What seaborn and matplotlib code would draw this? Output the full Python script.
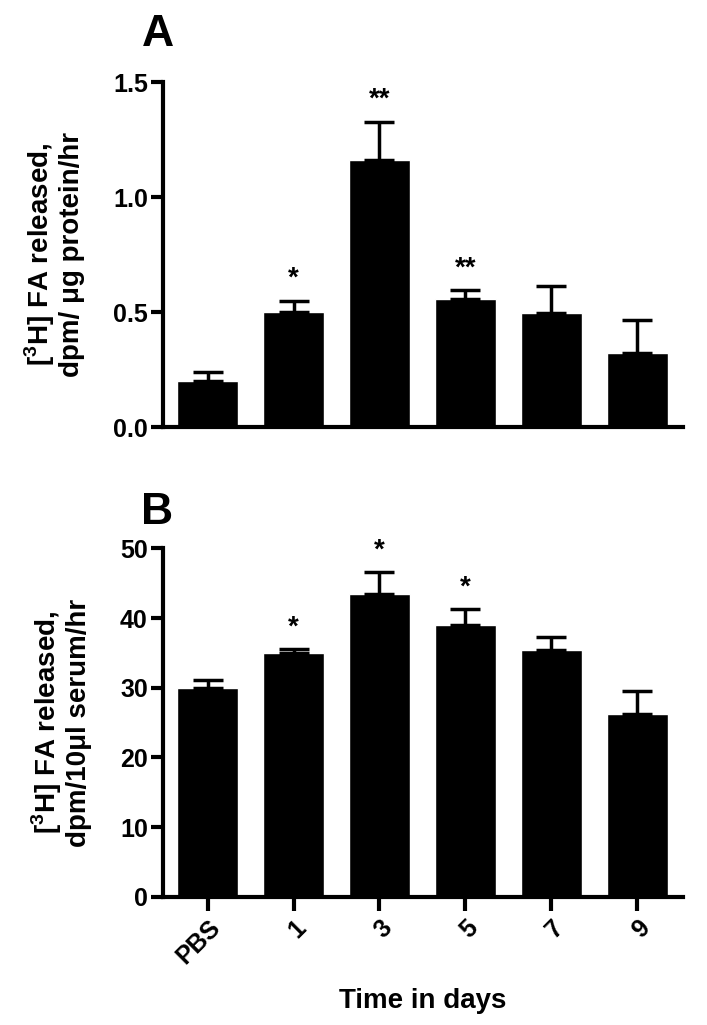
import pandas as pd
import matplotlib.pyplot as plt
import seaborn as sns

# Values
groups = ["PBS", "1", "3", "5", "7", "9"]
fa_protein = [0.20, 0.50, 1.16, 0.557, 0.497, 0.323]
fa_protein_sem = [0.042, 0.05, 0.166, 0.038, 0.116, 0.145]
fa_protein_stars = ["", "*", "**", "**", "", ""]

fa_serum = [29.9, 35.0, 43.4, 39.0, 35.4, 26.3]
fa_serum_sem = [1.2, 0.5, 3.2, 2.3, 1.9, 3.2]
fa_serum_stars = ["", "*", "*", "*", "", ""]

sns.set_style("ticks")
plt.rcParams["font.family"] = ["Liberation Sans", "DejaVu Sans"]
plt.rcParams["font.weight"] = "bold"
plt.rcParams["mathtext.fontset"] = "custom"
plt.rcParams["mathtext.bf"] = "Liberation Sans:bold"
plt.rcParams["mathtext.rm"] = "Liberation Sans:bold"
for key in ["text.color", "axes.labelcolor", "xtick.color", "ytick.color", "axes.edgecolor"]:
    plt.rcParams[key] = "black"


def draw_panel(ax, values, sems, stars, ylim, yticks, ylabel, star_pad):
    df = pd.DataFrame({"group": groups, "value": values})
    sns.barplot(data=df, x="group", y="value", color="black", saturation=1,
                width=0.71, errorbar=None, ax=ax)
    xs = range(len(groups))
    ax.errorbar(xs, values, yerr=[[0] * len(values), sems], fmt="none",
                ecolor="black", elinewidth=2.5, capsize=11, capthick=2.5)
    for x, v, s, st in zip(xs, values, sems, stars):
        if st:
            ax.text(x, v + s + star_pad, st, ha="center", va="bottom",
                    fontsize=20, fontweight="bold")
    ax.set_ylim(*ylim)
    ax.set_xlim(-0.52, 5.53)
    ax.set_yticks(yticks)
    ax.set_ylabel(ylabel, fontsize=20, fontweight="bold", labelpad=20,
                  linespacing=1.1)
    ax.set_xlabel("")
    sns.despine(ax=ax)
    for sp in ["left", "bottom"]:
        ax.spines[sp].set_linewidth(3)
    ax.tick_params(axis="y", width=3, length=9, pad=2, labelsize=18)
    ax.tick_params(axis="x", width=3, length=10, labelsize=18)


fig = plt.figure(figsize=(7.07, 10.25), dpi=100)
ax_a = fig.add_axes([0.2306, 0.583, 0.735, 0.337])
ax_b = fig.add_axes([0.2306, 0.125, 0.735, 0.34])

draw_panel(ax_a, fa_protein, fa_protein_sem, fa_protein_stars,
           (0, 1.5), [0.0, 0.5, 1.0, 1.5],
           "[$^{\\mathbf{3}}$H] FA released,\ndpm/ \u03bcg protein/hr", 0.04)
ax_a.set_yticklabels(["0.0", "0.5", "1.0", "1.5"])
ax_a.tick_params(axis="x", length=0, labelbottom=False)

draw_panel(ax_b, fa_serum, fa_serum_sem, fa_serum_stars,
           (0, 50), [0, 10, 20, 30, 40, 50],
           "[$^{\\mathbf{3}}$H] FA released,\ndpm/10\u03bcl serum/hr", 1.2)
ax_b.set_xticks(range(len(groups)))
ax_b.set_xticklabels(groups, rotation=45, ha="right", rotation_mode="anchor")
ax_b.set_xlabel("Time in days", fontsize=20, fontweight="bold", labelpad=14)

fig.text(0.2, 0.966, "A", fontsize=32, fontweight="bold", ha="left", va="center")
fig.text(0.2, 0.5, "B", fontsize=32, fontweight="bold", ha="left", va="center")

fig.savefig("out.png", dpi=100)
